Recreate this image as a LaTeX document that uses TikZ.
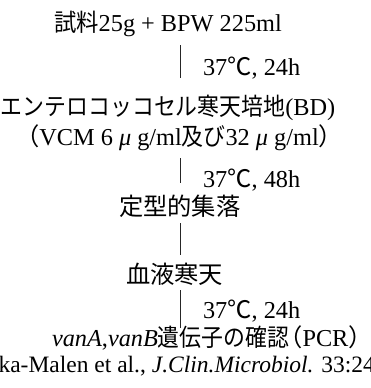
\documentclass[tikz,border=0pt]{standalone}
\usepackage{fontspec}
\setmainfont{Liberation Serif}
\newfontfamily\jp{Noto Sans CJK JP}
\newcommand\jlp{\hspace{-0.45em}{\jp （}}
\newcommand\jrp{{\jp ）}\hspace{-0.42em}}
\begin{document}
\begin{tikzpicture}[x=1pt,y=-1pt,
  txt/.style={inner sep=0pt, outer sep=0pt, anchor=base west, font=\fontsize{24.3}{28}\selectfont},
  conn/.style={line width=0.8pt, black!85}]
\useasboundingbox (0,0) rectangle (370,388);
\clip (0,0) rectangle (370,388);
\node[txt] (l1) at (54,31) {\scalebox{0.92}[1]{\jp 試料}25g + BPW 225ml};
\node[txt] (t1) at (203,75) {37{\jp ℃}, 24h};
\node[txt] (l2) at (1,115) {\scalebox{0.9}[1]{\jp エンテロコッコセル寒天培地}(BD)};
\node[txt] (l3) at (26,145) {\jlp VCM 6 \textit{μ} g/ml\scalebox{0.9}[1]{\jp 及び}32 \textit{μ} g/ml\jrp};
\node[txt] (t2) at (203,187) {37{\jp ℃}, 48h};
\node[txt] (l4) at (119,215) {{\jp 定型的集落}};
\node[txt] (l5) at (126,283) {{\jp 血液寒天}};
\node[txt] (t3) at (203,318) {37{\jp ℃}, 24h};
\node[txt] (l6) at (52,346) {\textit{vanA},\textit{vanB}\scalebox{0.9}[1]{\jp 遺伝子の確認}\jlp PCR\jrp};
\node[txt, font=\fontsize{23.5}{28}\selectfont] (l7) at (-1.5,372) {ka-Malen et al., \textit{J.Clin.Microbiol.} 33:24};
\coordinate (v1a) at (180,45); \coordinate (v1b) at (180,78);
\coordinate (v2a) at (180,158); \coordinate (v2b) at (180,183);
\coordinate (v3a) at (180,223); \coordinate (v3b) at (180,255);
\coordinate (v4a) at (180,290); \coordinate (v4b) at (180,328);
\draw[conn] (v1a) -- (v1b);
\draw[conn] (v2a) -- (v2b);
\draw[conn] (v3a) -- (v3b);
\draw[conn] (v4a) -- (v4b);
\end{tikzpicture}
\end{document}
